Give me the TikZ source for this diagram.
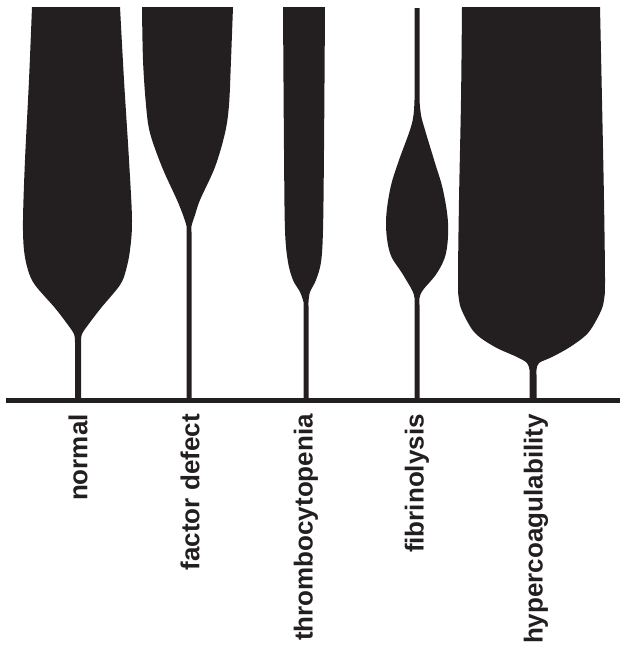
\documentclass[tikz,border=0pt]{standalone}
\usepackage{fontspec}
\setmainfont{Liberation Sans}
\definecolor{ink}{HTML}{231F20}
\begin{document}
\begin{tikzpicture}[x=1pt,y=-1pt,
  shape fill/.style={fill=ink},
  lab/.style={rotate=90,anchor=east,inner sep=0pt,text=ink,
    font=\fontsize{26}{26}\selectfont\bfseries}]
\useasboundingbox (0,0) rectangle (620,651);
% baseline
\coordinate (bl) at (6,400);
\coordinate (br) at (620,400);
\draw[ink,line width=5pt] (bl) -- (br);
% normal
\fill[shape fill] (32,7) -- plot[smooth,tension=0.55] coordinates {(32,7) (29,80) (25,160) (23,220) (24,250) (28,270) (35,285) (55,308) (68,325) (74,334) (75,342)}
 -- (75,400) -- (81,400) --
 plot[smooth,tension=0.55] coordinates {(81,342) (82,334) (88,325) (101,308) (120,285) (126,270) (130,250) (132,220) (129,160) (124,80) (120,7)} -- cycle;
% factor defect
\fill[shape fill] (142,7) -- plot[smooth,tension=0.55] coordinates {(142,7) (143,60) (146,105) (150,133) (162,167) (177,200) (183,215) (186.5,226) (186.5,232)}
 -- (186.5,400) -- (191.5,400) --
 plot[smooth,tension=0.55] coordinates {(191.5,232) (191.5,226) (195,215) (200,200) (215,167) (225,133) (229,105) (231,60) (233,7)} -- cycle;
% thrombocytopenia
\fill[shape fill] (283,7) -- plot[smooth,tension=0.55] coordinates {(283,7) (284,150) (285,230) (288,262) (293,280) (300,292) (303.5,302) (303.5,306)}
 -- (303.5,400) -- (308.5,400) --
 plot[smooth,tension=0.55] coordinates {(308.5,306) (308.5,302) (310,292) (316,280) (321,262) (323,230) (324,150) (325,7)} -- cycle;
% fibrinolysis
\fill[shape fill] (414.5,8) -- (414.5,100) -- plot[smooth,tension=0.6] coordinates {(414.5,100) (413.5,115) (410,130) (398,163) (390,190) (386,223) (390,253) (402,273) (412,290) (414.5,298) (414.5,305)}
 -- (414.5,400) -- (419.5,400) --
 plot[smooth,tension=0.6] coordinates {(419.5,305) (419.5,298) (423,290) (437,273) (446,253) (448,223) (443,190) (435,163) (425,130) (421,115) (419.5,100)} -- (419.5,8) -- cycle;
% hypercoagulability
\fill[shape fill] (462,7) -- plot[smooth,tension=0.55] coordinates {(462,7) (461,100) (459,200) (458,280) (459,300) (463,313) (475,333) (495,347) (517,357) (527,363) (529.5,370) (529.5,375)}
 -- (529.5,400) -- (536.5,400) --
 plot[smooth,tension=0.55] coordinates {(536.5,375) (536.5,370) (539,363) (552,357) (570,347) (588,333) (600,313) (604,300) (605,280) (604,200) (602,100) (600,7)} -- cycle;
% labels
\node[lab] (l1) at (78,414) {normal};
\node[lab] (l2) at (190,414) {factor defect};
\node[lab] (l3) at (306,414) {thrombocytopenia};
\node[lab] (l4) at (417,414) {fibrinolysis};
\node[lab] (l5) at (536,414) {hypercoagulability};
\end{tikzpicture}
\end{document}
